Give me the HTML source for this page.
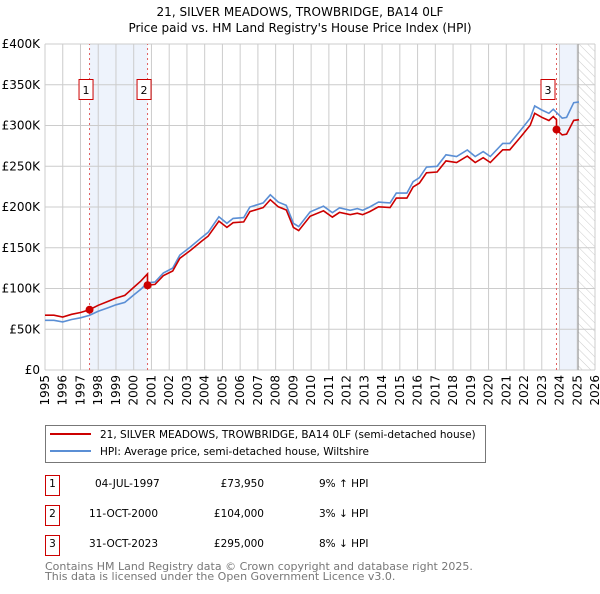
<!DOCTYPE html>
<html><head><meta charset="utf-8"><style>
body{margin:0;background:#fff;width:600px;height:590px;overflow:hidden;font-family:"DejaVu Sans","Liberation Sans",sans-serif;}
svg text{font-family:"DejaVu Sans","Liberation Sans",sans-serif;}
</style></head><body>
<svg id="c" width="600" height="590" xmlns="http://www.w3.org/2000/svg">
<defs><pattern id="h" width="6" height="6" patternUnits="userSpaceOnUse" patternTransform="rotate(-45)"><line x1="0" y1="0" x2="0" y2="6" stroke="#ccc" stroke-width="1"/></pattern></defs>
<text x="300" y="16" text-anchor="middle" font-size="12">21, SILVER MEADOWS, TROWBRIDGE, BA14 0LF</text>
<text x="300" y="32" text-anchor="middle" font-size="12">Price paid vs. HM Land Registry's House Price Index (HPI)</text>
<g id="plot"></g>
<rect x="45.5" y="425.5" width="440" height="37" fill="#fff" stroke="#777"/>
<line x1="50" y1="434" x2="91" y2="434" stroke="#c00" stroke-width="2"/>
<text x="100" y="438" font-size="10.5">21, SILVER MEADOWS, TROWBRIDGE, BA14 0LF (semi-detached house)</text>
<line x1="50" y1="451" x2="91" y2="451" stroke="#5b8fd5" stroke-width="2"/>
<text x="100" y="455" font-size="10.5">HPI: Average price, semi-detached house, Wiltshire</text>
<g font-size="10.5">
<rect x="45.5" y="475.5" width="14" height="20" fill="#fff" stroke="#c00"/><text x="52.5" y="487" text-anchor="middle">1</text>
<text x="95" y="487">04-JUL-1997</text><text x="264" y="487" text-anchor="end">£73,950</text><text x="319" y="487">9% ↑ HPI</text>
<rect x="45.5" y="505.5" width="14" height="20" fill="#fff" stroke="#c00"/><text x="52.5" y="517" text-anchor="middle">2</text>
<text x="89" y="517">11-OCT-2000</text><text x="264" y="517" text-anchor="end">£104,000</text><text x="319" y="517">3% ↓ HPI</text>
<rect x="45.5" y="535.5" width="14" height="20" fill="#fff" stroke="#c00"/><text x="52.5" y="547" text-anchor="middle">3</text>
<text x="89" y="547">31-OCT-2023</text><text x="264" y="547" text-anchor="end">£295,000</text><text x="319" y="547">8% ↓ HPI</text>
</g>
<text x="45" y="570" font-size="11" fill="#777">Contains HM Land Registry data © Crown copyright and database right 2025.</text>
<text x="45" y="580" font-size="11" fill="#777">This data is licensed under the Open Government Licence v3.0.</text>
</svg>
<script>
const hpiYears=[1995,1995.5,1996,1996.5,1997,1997.5,1998,1998.5,1999,1999.5,2000,2000.4,2000.78,2001.2,2001.67,2002.2,2002.6,2003.2,2003.85,2004.2,2004.8,2005.25,2005.6,2006.2,2006.55,2007.3,2007.7,2008.15,2008.6,2009.0,2009.3,2009.94,2010.7,2011.2,2011.6,2012.2,2012.6,2012.9,2013.3,2013.8,2014.45,2014.8,2015.4,2015.75,2016.1,2016.5,2017.1,2017.6,2018.2,2018.8,2019.25,2019.7,2020.1,2020.8,2021.2,2021.8,2022.35,2022.6,2023.0,2023.4,2023.65,2023.83,2024.15,2024.4,2024.8,2025.1];
const hpiValues=[61,61,59,62,64,67,72,76,80,83,92,99,107,108,119,125,141,151,163,169,188,180,186,187,200,205,215,206,202,180,176,194,201,193,199,196,198,196,200,206,205,217,217,231,236,249,250,264,262,270,262,268,262,278,278,294,309,324,319,315,320,316,309,310,328,329];
const saleYears=[1997.51,2000.78,2023.83];
const salePrices=[73.95,104,295];
const yTicks=[0,50,100,150,200,250,300,350,400];
const yTickLabels=["£0","£50K","£100K","£150K","£200K","£250K","£300K","£350K","£400K"];
const xTicks=[1995,1996,1997,1998,1999,2000,2001,2002,2003,2004,2005,2006,2007,2008,2009,2010,2011,2012,2013,2014,2015,2016,2017,2018,2019,2020,2021,2022,2023,2024,2025,2026];
const X=y=>45+(y-1995)*(550/31), Y=v=>370-v*(326/400);
const NS="http://www.w3.org/2000/svg", g=document.getElementById('plot');
function mk(t,a,p){const e=document.createElementNS(NS,t);for(const k in a)e.setAttribute(k,a[k]);(p||g).appendChild(e);return e;}
function hpiAt(t){for(let i=1;i<hpiYears.length;i++)if(t<=hpiYears[i]){const f=(t-hpiYears[i-1])/(hpiYears[i]-hpiYears[i-1]);return hpiValues[i-1]+f*(hpiValues[i]-hpiValues[i-1]);}return hpiValues[hpiValues.length-1];}
let e;
e=mk('rect',{x:X(1997.51),y:Y(400),width:X(2000.78)-X(1997.51),height:Y(0)-Y(400),fill:'#eef3fc'});


e=mk('rect',{x:X(2024),y:Y(400),width:X(2025.05)-X(2024),height:Y(0)-Y(400),fill:'#eef3fc'});


e=mk('rect',{x:X(2025.05),y:Y(400),width:X(2026)-X(2025.05),height:Y(0)-Y(400),fill:'url(#h)'});


xTicks.forEach(t=>{e=mk('line',{x1:X(t),x2:X(t),y1:Y(0),y2:Y(400),stroke:'#ccc'});


e=mk('text',{x:0,y:0,'font-size':12,'text-anchor':'end',transform:`translate(${X(t)+4},375) rotate(-90)`});e.textContent=t;

});
yTicks.forEach((v,i)=>{e=mk('line',{x1:45,x2:595,y1:Y(v),y2:Y(v),stroke:'#ccc'});


e=mk('text',{x:40,y:Y(v)+4,'font-size':12,'text-anchor':'end'});e.textContent=yTickLabels[i];

});
e=mk('line',{x1:X(2025.05),x2:X(2025.05),y1:Y(0),y2:Y(400),stroke:'#999'});


saleYears.forEach((s,i)=>{e=mk('line',{x1:X(s),x2:X(s),y1:Y(0),y2:Y(400),stroke:'#e06060','stroke-dasharray':'2,3'});


const bx=X(s)-(i==2?8:3)-4;
e=mk('rect',{x:bx-3.5,y:79.5,width:14,height:20,fill:'#fff',stroke:'#c00'});


e=mk('text',{x:bx+3.5,y:94,'font-size':11,'text-anchor':'middle'});e.textContent=i+1;

});
let hp=hpiYears.map((t,i)=>X(t).toFixed(1)+','+Y(hpiValues[i]).toFixed(1)).join(' ');
e=mk('polyline',{points:hp,fill:'none',stroke:'#5b8fd5','stroke-width':1.6});


function redAt(t){let k=0;for(let i=0;i<saleYears.length;i++)if(t>=saleYears[i])k=i;return salePrices[k]*hpiAt(t)/hpiAt(saleYears[k]);}
let rts=[];hpiYears.forEach(t=>rts.push(t));saleYears.forEach(s=>{rts.push(s-0.001);rts.push(s);});rts.sort((a,b)=>a-b);
let rp=rts.map(t=>X(t).toFixed(1)+','+Y(redAt(t)).toFixed(1)).join(' ');
e=mk('polyline',{points:rp,fill:'none',stroke:'#c00','stroke-width':1.6});


saleYears.forEach((s,i)=>{e=mk('circle',{cx:X(s),cy:Y(salePrices[i]),r:4,fill:'#c00'});

});
</script>
</body></html>
